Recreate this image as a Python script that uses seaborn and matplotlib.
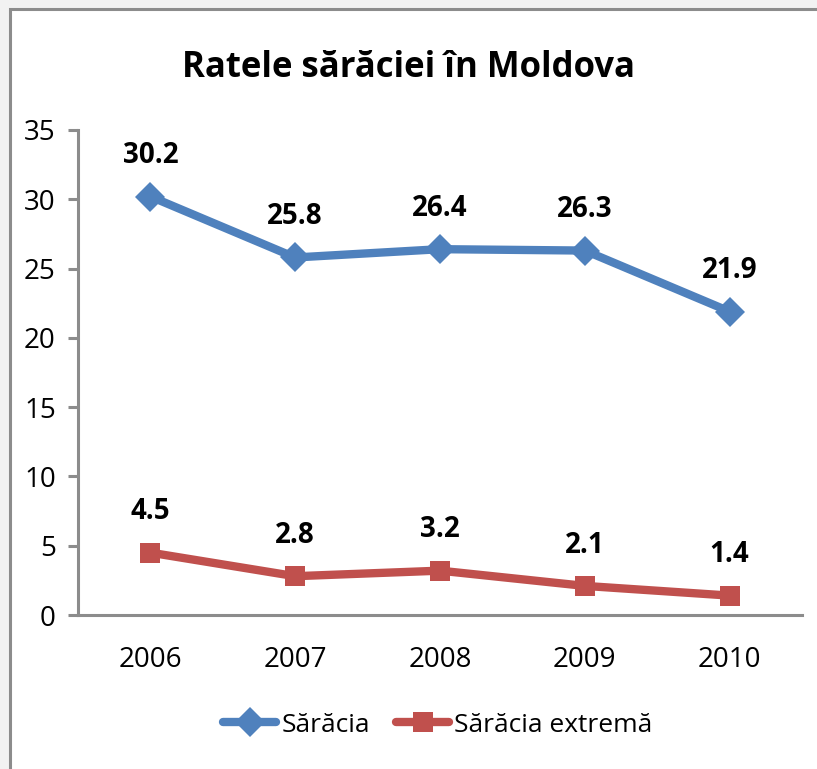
"""Ratele sărăciei în Moldova - line chart, Excel style."""

import matplotlib
matplotlib.use("Agg")
import matplotlib.pyplot as plt
from matplotlib.lines import Line2D
from matplotlib.patches import Rectangle
import pandas as pd
import seaborn as sns

YEARS = ["2006", "2007", "2008", "2009", "2010"]
SARACIA = [30.2, 25.8, 26.4, 26.3, 21.9]
SARACIA_EXTREMA = [4.5, 2.8, 3.2, 2.1, 1.4]
SERIES = ["Sărăcia", "Sărăcia extremă"]

BLUE = "#4F81BD"
RED = "#C0504D"
GRID_GRAY = "#8C8C8C"

df = pd.DataFrame({
    "idx": list(range(len(YEARS))) * 2,
    "value": SARACIA + SARACIA_EXTREMA,
    "series": [SERIES[0]] * len(YEARS) + [SERIES[1]] * len(YEARS),
})

sns.set_style("white")
plt.rcParams["font.family"] = ["Open Sans", "DejaVu Sans"]
plt.rcParams["text.color"] = "black"
plt.rcParams["xtick.color"] = "black"
plt.rcParams["ytick.color"] = "black"

fig = plt.figure(figsize=(8.17, 7.69), dpi=100, facecolor="#F2F2F2")
# chart area frame (white, gray border) like an embedded Excel chart
fig.patches.append(Rectangle((9.5 / 817, -0.05), 1.0, 1 - 8.5 / 769 + 0.05,
                             transform=fig.transFigure, facecolor="white",
                             edgecolor=GRID_GRAY, linewidth=2.2, zorder=-10))

ax = fig.add_axes([78 / 817, 1 - 615 / 769, (802 - 78) / 817, (615 - 130) / 769])
ax.set_facecolor("none")
ax.set_zorder(2)

sns.lineplot(data=df, x="idx", y="value", hue="series", style="series",
             markers={SERIES[0]: "D", SERIES[1]: "s"}, dashes=False,
             palette={SERIES[0]: BLUE, SERIES[1]: RED},
             linewidth=6, markersize=15, markeredgewidth=0,
             legend=False, ax=ax, clip_on=False)

for vals in (SARACIA, SARACIA_EXTREMA):
    for i, v in enumerate(vals):
        ax.annotate(f"{v}", (i, v), xytext=(0, 19), textcoords="offset points",
                    ha="center", va="bottom", fontsize=20, fontweight="bold")

ax.set_xlim(-0.5, len(YEARS) - 0.5)
ax.set_ylim(0, 35)
ax.set_yticks(range(0, 36, 5))
ax.set_xticks(range(len(YEARS)))
ax.set_xticklabels(YEARS)
ax.set_xticks([i - 0.5 for i in range(len(YEARS) + 1)], minor=True)
ax.tick_params(axis="x", which="major", length=0, pad=22, labelsize=20)
ax.tick_params(axis="x", which="minor", length=8, width=2.2, color=GRID_GRAY,
               direction="out")
ax.tick_params(axis="y", length=7, width=2.2, color=GRID_GRAY, direction="out",
               pad=9, labelsize=20, left=True)
ax.set_xlabel("")
ax.set_ylabel("")
for side in ("top", "right"):
    ax.spines[side].set_visible(False)
for side in ("left", "bottom"):
    ax.spines[side].set_color(GRID_GRAY)
    ax.spines[side].set_linewidth(2.2)

fig.text(0.5, 1 - 68 / 769, "Ratele sărăciei în Moldova", ha="center",
         va="center", fontsize=25, fontweight="bold")

handles = [
    Line2D([], [], color=BLUE, marker="D", linewidth=6, markersize=15,
           markeredgewidth=0),
    Line2D([], [], color=RED, marker="s", linewidth=6, markersize=15,
           markeredgewidth=0),
]
fig.legend(handles, SERIES, loc="center", bbox_to_anchor=(438 / 817, 1 - 725 / 769),
           ncol=2, frameon=False, fontsize=19, handlelength=2.0,
           handletextpad=0.2, columnspacing=1.0)

fig.savefig("out.png", dpi=100, facecolor=fig.get_facecolor())
